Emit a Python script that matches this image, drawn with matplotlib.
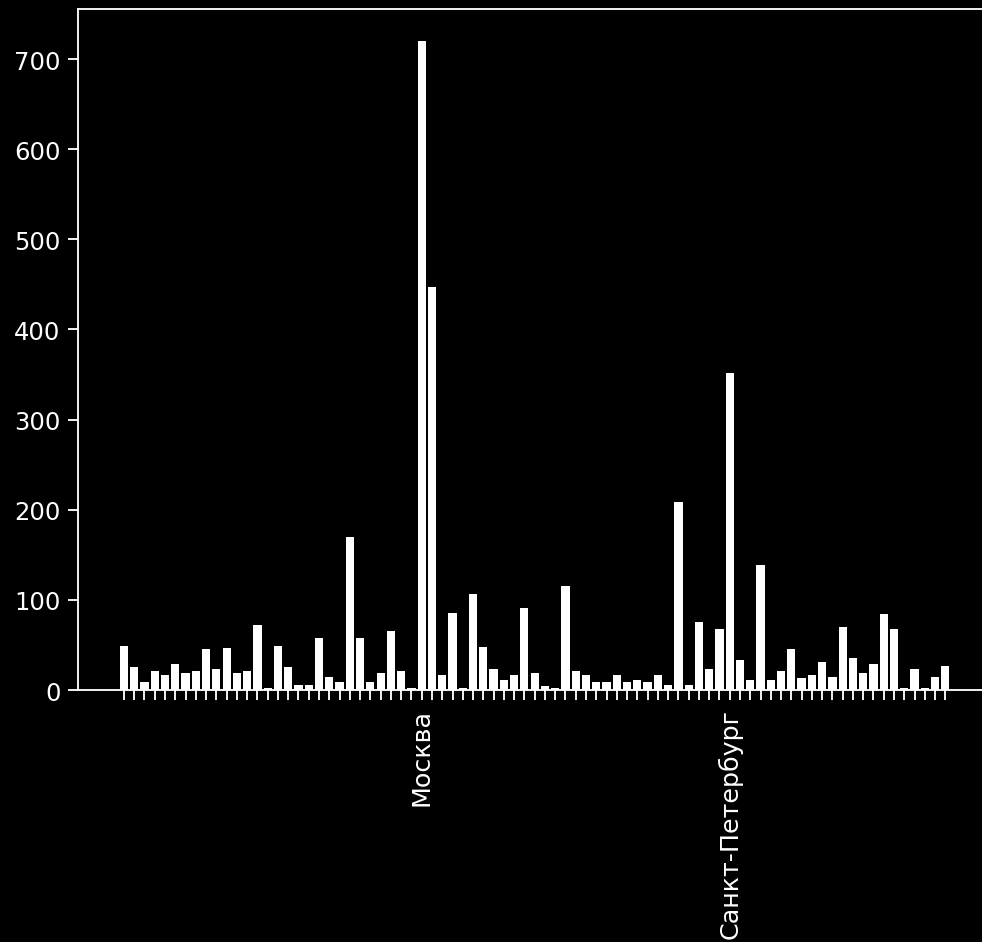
import matplotlib
matplotlib.use("Agg")
import matplotlib.pyplot as plt
import numpy as np

# bar heights, left to right
values = [49, 25, 9, 21, 17, 29, 19, 21, 45, 23,
          47, 19, 21, 72, 2, 49, 25, 6, 6, 58,
          15, 9, 170, 58, 9, 19, 66, 21, 2, 720,
          447, 17, 86, 2, 107, 48, 23, 11, 17, 91,
          19, 4, 2, 115, 21, 17, 9, 9, 17, 9,
          11, 9, 17, 6, 209, 6, 76, 23, 68, 352,
          33, 11, 139, 11, 21, 45, 13, 17, 31, 15,
          70, 35, 19, 29, 84, 68, 2, 23, 2, 15,
          27]

# only two region names are readable on the axis
tick_labels = [""] * len(values)
tick_labels[29] = "Москва"
tick_labels[59] = "Санкт-Петербург"

plt.style.use("dark_background")
plt.rcParams["xtick.labelsize"] = 11
plt.rcParams["ytick.labelsize"] = 10.5
plt.rcParams["xtick.major.size"] = 4.3
plt.rcParams["ytick.major.size"] = 4.3

dpi = 166
fig = plt.figure(figsize=(982 / dpi, 943 / dpi), dpi=dpi)
ax = fig.add_axes([0.0798, 0.2672, 0.9293, 0.7227])

x = np.arange(len(values))
ax.bar(x, values, color="white", width=0.8)
ax.set_xticks(x)
ax.set_xticklabels(tick_labels, rotation=90)

fig.savefig("out.png", dpi=dpi, facecolor="black")
